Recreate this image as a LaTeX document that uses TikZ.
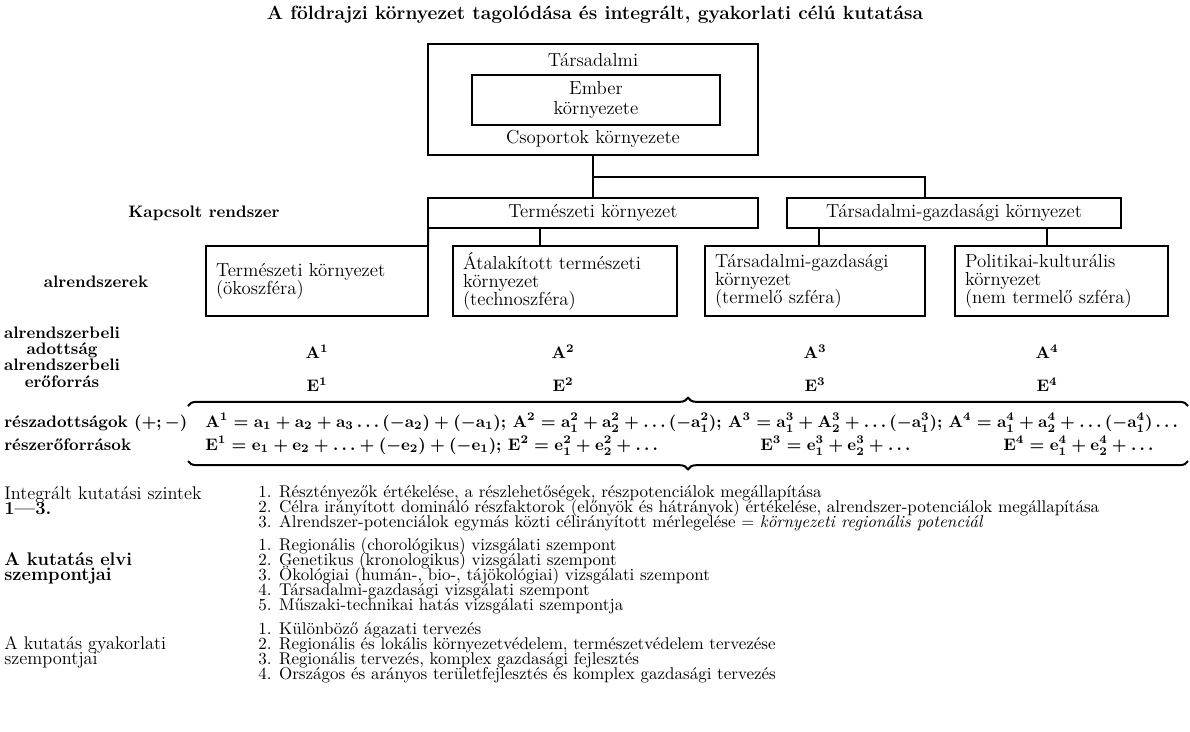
\documentclass[tikz,border=0pt]{standalone}
\usepackage{fontspec}
\usetikzlibrary{decorations.pathreplacing}
\newcommand\szorossor{\lineskiplimit-20pt\relax}

\begin{document}
\begin{tikzpicture}
[x=0.6pt,y=-0.6pt,%
  every node/.style={inner sep=0pt,font=\fontsize{10}{9}\selectfont},%
  keret/.style={draw,line width=1.2pt,outer sep=0pt,font=\fontsize{11.3}{12}\selectfont},%
  alrendszer/.style={keret,minimum height=42pt,align=left,inner xsep=6pt,%
    font=\fontsize{11.3}{10.8}\selectfont\szorossor},%
  vonal/.style={line width=1.2pt},%
  felirat/.style={font=\fontsize{10}{9}\selectfont\bfseries\boldmath},%
  fejlec/.style={anchor=west,align=left,font=\fontsize{11}{9}\selectfont\szorossor},%
  lista/.style={anchor=west,align=left,font=\fontsize{10.2}{9}\selectfont\szorossor},%
  kapocs/.style={line width=1.2pt,decorate,decoration={brace,amplitude=5pt}}]
\useasboundingbox (0,0) rectangle (1190,731);
\node[font=\fontsize{11.5}{9}\selectfont\bfseries] (cim) at (595,15)
  {A földrajzi környezet tagolódása és integrált, gyakorlati célú kutatása};
% felso doboz
\node[keret,minimum width=198pt,minimum height=66.6pt] (tarsadalmi) at (593,99.5) {};
\node[font=\fontsize{11.3}{12}\selectfont] (tarsfej) at (593,60) {Társadalmi};
\node[keret,minimum width=148.8pt,minimum height=30pt,align=center] (ember) at (596,100)
  {Ember\\környezete};
\node[font=\fontsize{11.3}{12}\selectfont] (csoport) at (593,139) {Csoportok környezete};
% kapcsolt rendszer
\node[felirat] (kapcsolt) at (204,213) {Kapcsolt rendszer};
\node[keret,minimum width=198pt,minimum height=18pt] (termeszeti) at (593,213)
  {Természeti környezet};
\node[keret,minimum width=200.4pt,minimum height=18pt] (tarsgazd) at (954,213)
  {Társadalmi-gazdasági környezet};
\coordinate (elagazas) at (593,177);
\coordinate (tgfel) at (925,198);
\draw[vonal] (tarsadalmi.south) -- (termeszeti.north);
\draw[vonal] (elagazas) -| (tgfel);
% alrendszerek
\node[felirat] (alrendszerek) at (96,282) {alrendszerek};
\node[alrendszer,text width=121.2pt,anchor=north east] (oko) at (428,246)
  {Természeti környezet\\(ökoszféra)};
\node[alrendszer,text width=122.4pt] (techno) at (565,281)
  {Átalakított természeti\\környezet\\(technoszféra)};
\node[alrendszer,text width=120pt] (termelo) at (815,281)
  {Társadalmi-gazdasági\\környezet\\(termelő szféra)};
\node[alrendszer,text width=115.8pt] (nemtermelo) at (1061.5,281)
  {Politikai-kulturális\\környezet\\(nem termelő szféra)};
\path (techno.north west) ++(87,0) coordinate (technofel);
\path (termelo.north west) ++(114,0) coordinate (termelofel);
\path (nemtermelo.north west) ++(92,0) coordinate (nemtermelofel);
\draw[vonal] (termeszeti.south west) -- (oko.north east);
\draw[vonal] (technofel) -- (technofel |- termeszeti.south);
\draw[vonal] (termelofel) -- (termelofel |- tarsgazd.south);
\draw[vonal] (nemtermelofel) -- (nemtermelofel |- tarsgazd.south);
% adottsagok, eroforrasok
\node[align=center,font=\fontsize{10}{9.8}\selectfont\bfseries\szorossor] (alrbeli) at (62,357)
  {alrendszerbeli\\adottság\\alrendszerbeli\\erőforrás};
\foreach \x/\i in {317/1,563/2,815/3,1047/4} {
  \node[felirat] (A\i) at (\x,352) {$\mathbf{A}^{\i}$};
  \node[felirat] (E\i) at (\x,385) {$\mathbf{E}^{\i}$};
}
\coordinate (fbal) at (188,406);
\coordinate (fjobb) at (1188,406);
\coordinate (abal) at (188,461);
\coordinate (ajobb) at (1188,461);
\draw[kapocs] (fbal) -- (fjobb);
\draw[kapocs] (ajobb) -- (abal);
\node[felirat,anchor=base west] (reszadott) at (4,427) {részadottságok $(+;-)$};
\node[felirat,anchor=base west] (reszero) at (4,450) {részerőforrások};
\node[felirat,anchor=base west] (Asor) at (205,427)
  {$\mathbf{A}^1=\mathbf{a}_1+\mathbf{a}_2+\mathbf{a}_3\ldots(-\mathbf{a}_2)+(-\mathbf{a}_1)$;
   $\mathbf{A}^2=\mathbf{a}^2_1+\mathbf{a}^2_2+\ldots(-\mathbf{a}^2_1)$;
   $\mathbf{A}^3=\mathbf{a}^3_1+\mathbf{A}^3_2+\ldots(-\mathbf{a}^3_1)$;
   $\mathbf{A}^4=\mathbf{a}^4_1+\mathbf{a}^4_2+\ldots(-\mathbf{a}^4_1)\ldots$};
\node[felirat,anchor=base west] (Esor) at (205,450)
  {$\mathbf{E}^1=\mathbf{e}_1+\mathbf{e}_2+\ldots+(-\mathbf{e}_2)+(-\mathbf{e}_1)$;
   $\mathbf{E}^2=\mathbf{e}^2_1+\mathbf{e}^2_2+\ldots$};
\node[felirat,anchor=base west] (Esor3) at (760,450)
  {$\mathbf{E}^3=\mathbf{e}^3_1+\mathbf{e}^3_2+\ldots$};
\node[felirat,anchor=base west] (Esor4) at (1003,450)
  {$\mathbf{E}^4=\mathbf{e}^4_1+\mathbf{e}^4_2+\ldots$};
% kutatasi szintek es szempontok
\node[fejlec] (szintek) at (4,500.5)
  {Integrált kutatási szintek\\\textbf{1---3.}};
\node[lista] (szintlista) at (258,508)
  {1. Résztényezők értékelése, a részlehetőségek, részpotenciálok megállapítása\\
   2. Célra irányított domináló részfaktorok (előnyök és hátrányok) értékelése, alrendszer-potenciálok megállapítása\\
   3. Alrendszer-potenciálok egymás közti célirányított mérlegelése $=$ \textit{környezeti regionális potenciál}};
\node[fejlec,font=\fontsize{11}{9}\selectfont\bfseries\szorossor] (elvi) at (4,568.5)
  {A kutatás elvi\\szempontjai};
\node[lista] (elvilista) at (258,576)
  {1. Regionális (chorológikus) vizsgálati szempont\\
   2. Genetikus (kronologikus) vizsgálati szempont\\
   3. Ökológiai (humán-, bio-, tájökológiai) vizsgálati szempont\\
   4. Társadalmi-gazdasági vizsgálati szempont\\
   5. Műszaki-technikai hatás vizsgálati szempontja};
\node[fejlec] (gyakorlati) at (4,652.5)
  {A kutatás gyakorlati\\szempontjai};
\node[lista] (gyaklista) at (258,652.5)
  {1. Különböző ágazati tervezés\\
   2. Regionális és lokális környezetvédelem, természetvédelem tervezése\\
   3. Regionális tervezés, komplex gazdasági fejlesztés\\
   4. Országos és arányos területfejlesztés és komplex gazdasági tervezés};
\end{tikzpicture}
\end{document}
